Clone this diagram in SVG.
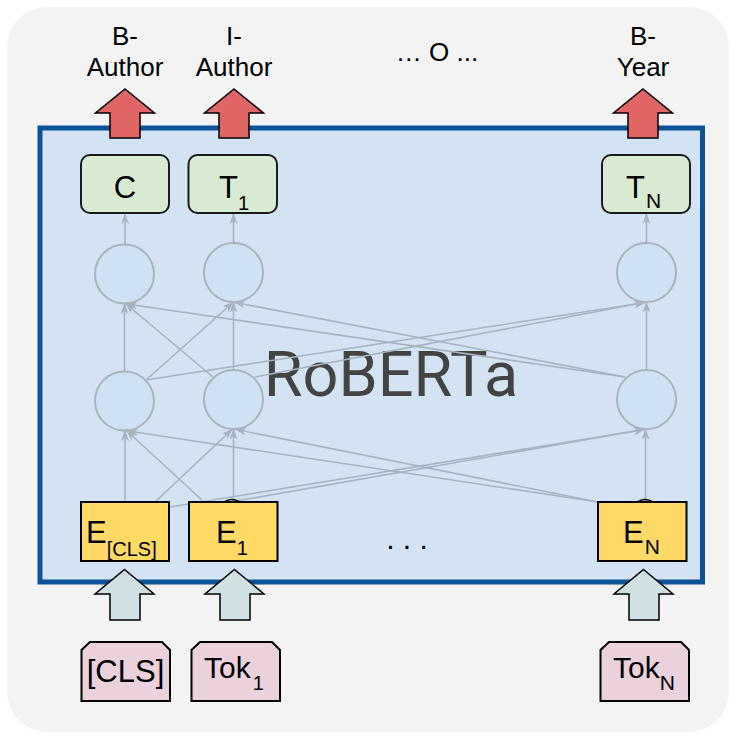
<svg xmlns="http://www.w3.org/2000/svg" width="736" height="739" viewBox="0 0 736 739">
<defs>
<marker id="ah" markerWidth="12" markerHeight="10" refX="10" refY="4" orient="auto" markerUnits="userSpaceOnUse">
<path d="M0,0 L11,4 L0,8 L3,4 z" fill="#a7b4c0"/>
</marker>
<style>
.lbl{font-family:"Liberation Sans",Arial,sans-serif;fill:#000;}
.edge{stroke:#a7b4c0;stroke-width:1.6;fill:none;marker-end:url(#ah);}
.circ{fill:#cfe2f3;stroke:#a7b4c0;stroke-width:2;}
.out{fill:#d9ead3;stroke:#1a1a1a;stroke-width:2;}
.emb{fill:#ffd966;stroke:#000;stroke-width:2;}
.tok{fill:#ead1dc;stroke:#000;stroke-width:2;}
.red{fill:#e06666;stroke:#000;stroke-width:1.5;stroke-linejoin:miter;}
.grn{fill:#d0e0e3;stroke:#000;stroke-width:1.5;stroke-linejoin:miter;}
</style>
</defs>
<rect width="736" height="739" fill="#ffffff"/>
<rect x="7" y="7" width="722" height="725" rx="40" fill="#f3f3f3"/>

<g id="roberta">
<rect x="40" y="128" width="662.5" height="454" fill="#d3e3f4" stroke="#0b5394" stroke-width="5"/>
<text x="391" y="396" font-family="Roboto,sans-serif" font-size="63" fill="#434343" text-anchor="middle">RoBERTa</text>
</g>

<g id="labels" class="lbl" font-size="26" text-anchor="middle">
<text x="125" y="45">B-</text><text x="125" y="76">Author</text>
<text x="234" y="45">I-</text><text x="234" y="76">Author</text>
<text x="643" y="45">B-</text><text x="643" y="76">Year</text>
<text x="437" y="61">… O ...</text>
</g>

<g id="out-arrows">
<path class="red" d="M125,89 L154.5,113 L140,113 L140,138 L110,138 L110,113 L95.5,113 Z"/>
<path class="red" d="M234,89 L263.5,113 L249,113 L249,138 L219,138 L219,113 L204.5,113 Z"/>
<path class="red" d="M643,89 L672.5,113 L658,113 L658,138 L628,138 L628,113 L613.5,113 Z"/>
</g>

<g id="connectors">
<line class="edge" x1="125" y1="244" x2="125" y2="214"/>
<line class="edge" x1="233.5" y1="243" x2="233.5" y2="214"/>
<line class="edge" x1="646.5" y1="243" x2="646.5" y2="214"/>
<line class="edge" x1="124.5" y1="371.5" x2="124.5" y2="304"/>
<line class="edge" x1="146" y1="380" x2="233" y2="302.5"/>
<line class="edge" x1="146" y1="380" x2="645" y2="302.5"/>
<line class="edge" x1="213" y1="377" x2="126" y2="304"/>
<line class="edge" x1="233.5" y1="369.5" x2="233.5" y2="302.5"/>
<line class="edge" x1="255" y1="377" x2="644" y2="302.5"/>
<line class="edge" x1="625" y1="377" x2="127" y2="304"/>
<line class="edge" x1="625" y1="377" x2="235" y2="302.5"/>
<line class="edge" x1="646.5" y1="369.5" x2="646.5" y2="302.5"/>
<line class="edge" x1="125" y1="502" x2="125" y2="431"/>
<line class="edge" x1="155" y1="502" x2="232" y2="429.5"/>
<line class="edge" x1="170" y1="507" x2="644" y2="429.5"/>
<line class="edge" x1="203" y1="501" x2="127" y2="431"/>
<line class="edge" x1="233.5" y1="501" x2="233.5" y2="429.5"/>
<line class="edge" x1="236" y1="501" x2="644" y2="429.5"/>
<line class="edge" x1="598" y1="502" x2="128" y2="431"/>
<line class="edge" x1="598" y1="502" x2="236" y2="429.5"/>
<line class="edge" x1="645.5" y1="502" x2="645.5" y2="429.5"/>
</g>

<g id="hidden1">
<circle class="circ" cx="124.5" cy="274" r="29.5"/>
<circle class="circ" cx="233.5" cy="272.5" r="29.5"/>
<circle class="circ" cx="646.5" cy="272.5" r="29.5"/>
</g>
<g id="hidden2">
<circle class="circ" cx="124.5" cy="401" r="29.5"/>
<circle class="circ" cx="233.5" cy="399.5" r="29.5"/>
<circle class="circ" cx="646.5" cy="399.5" r="29.5"/>
</g>

<g id="out-C">
<rect class="out" x="81" y="155" width="88" height="58" rx="9"/>
<text class="lbl" x="125" y="198" font-size="31" text-anchor="middle">C</text>
</g>
<g id="out-T1">
<rect class="out" x="188.5" y="155" width="88.5" height="58" rx="9"/>
<text class="lbl" x="219" y="198" font-size="31">T<tspan font-size="20" dy="12">1</tspan></text>
</g>
<g id="out-TN">
<rect class="out" x="602" y="155" width="88" height="58" rx="9"/>
<text class="lbl" x="626" y="198" font-size="31">T<tspan font-size="21" dy="10" dx="1">N</tspan></text>
</g>

<g id="emb-CLS">
<rect class="emb" x="81" y="502" width="88" height="59"/>
<text class="lbl" x="86" y="543" font-size="31">E<tspan font-size="20" dy="13">[CLS]</tspan></text>
</g>
<g id="emb-1">
<rect class="emb" x="189" y="502" width="88.5" height="59"/>
<path d="M224,502 Q232,497 240,502" fill="none" stroke="#000" stroke-width="1.5"/>
<text class="lbl" x="216" y="543" font-size="31">E<tspan font-size="20" dy="12">1</tspan></text>
</g>
<g id="emb-N">
<rect class="emb" x="598" y="502" width="88.5" height="59"/>
<path d="M637,502 Q645,497 653,502" fill="none" stroke="#000" stroke-width="1.5"/>
<text class="lbl" x="623" y="543" font-size="31">E<tspan font-size="21" dy="11" dx="1">N</tspan></text>
</g>
<text class="lbl" x="407" y="549" font-size="30" text-anchor="middle">. . .</text>

<g id="in-arrows">
<path class="grn" d="M124.5,569.5 L154,594 L140,594 L140,620 L110,620 L110,594 L95,594 Z"/>
<path class="grn" d="M234.5,569.5 L264,594 L250,594 L250,620 L220,620 L220,594 L205,594 Z"/>
<path class="grn" d="M643.5,569.5 L673,594 L659,594 L659,620 L629,620 L629,594 L614,594 Z"/>
</g>

<g id="tok-CLS">
<path class="tok" d="M90,642 L162,642 L170,650 L170,701 L81.5,701 L81.5,650 Z"/>
<text class="lbl" x="125.5" y="682" font-size="31" text-anchor="middle">[CLS]</text>
</g>
<g id="tok-1">
<path class="tok" d="M200,642 L272,642 L280,650 L280,701 L191.5,701 L191.5,650 Z"/>
<text class="lbl" x="204" y="678" font-size="30">Tok<tspan font-size="20" dy="12" dx="2">1</tspan></text>
</g>
<g id="tok-N">
<path class="tok" d="M609,642 L681,642 L689,650 L689,701 L600.5,701 L600.5,650 Z"/>
<text class="lbl" x="613" y="678" font-size="30">Tok<tspan font-size="21" dy="12">N</tspan></text>
</g>
</svg>
